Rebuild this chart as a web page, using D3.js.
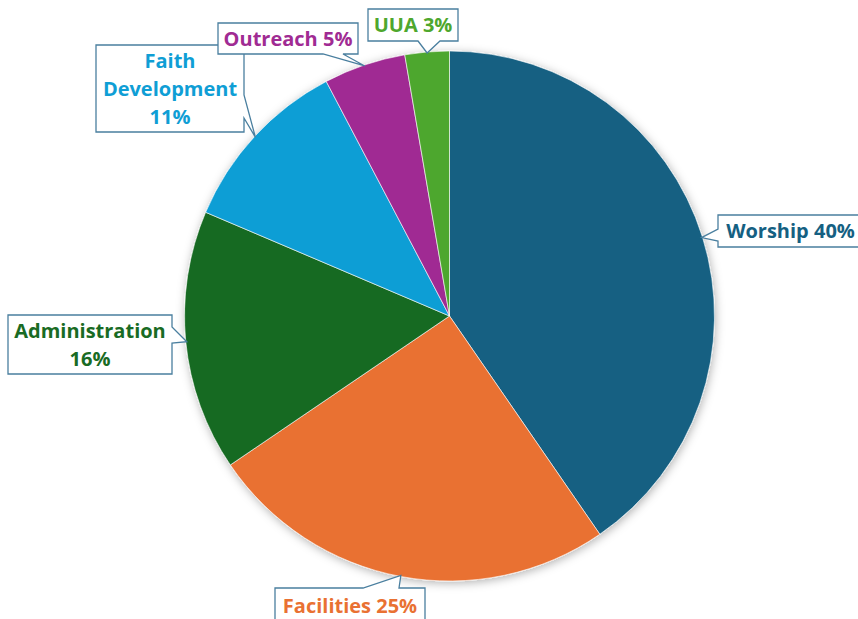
<!DOCTYPE html>
<html>
<head>
<meta charset="utf-8">
<script src="https://cdn.jsdelivr.net/npm/d3@7"></script>
<style>
  body { margin: 0; background: #fff; }
  svg { display: block; }
  .callout-text { font-family: "Open Sans", "Liberation Sans", sans-serif; font-weight: 700; }
</style>
</head>
<body>
<svg id="chart" width="858" height="619"></svg>
<script>
// Data (shares in percent; labels show them rounded)
const categories = ['Worship', 'Facilities', 'Administration', 'Faith Development', 'Outreach', 'UUA']
const values = [40.4, 25.1, 15.9, 10.9, 5.0, 2.7]
const sliceColors = ['#156082', '#E97132', '#196B24', '#0F9ED5', '#A02B93', '#4EA72E']

// Label box layout (placed by hand, like the original)
const labelBoxes = [
    {x: 718, y: 215, w: 145, h: 32, side: 'left',   base: [229, 241], lines: d => [d.name + ' ' + pct(d.value)]},
    {x: 275, y: 588, w: 150, h: 36, side: 'top',    base: [363, 399], lines: d => [d.name + ' ' + pct(d.value)]},
    {x: 8,   y: 315, w: 164, h: 59, side: 'right',  base: [327, 343], lines: d => [d.name, pct(d.value)]},
    {x: 96,  y: 45,  w: 148, h: 87, side: 'right',  base: [95, 118],  lines: d => ['Faith', 'Development', pct(d.value)]},
    {x: 218, y: 23,  w: 140, h: 31, side: 'bottom', base: [323, 343], lines: d => [d.name + ' ' + pct(d.value)]},
    {x: 368, y: 9,   w: 90,  h: 32, side: 'bottom', base: [418, 440], lines: d => [d.name + ' ' + pct(d.value)]}
]

function pct(v) { return Math.round(v) + '%' }

const width = 858, height = 619
const cx = 449.5, cy = 316, radius = 265
const fontSize = 20, lineHeight = 28
const boxStroke = '#4a7f9f'

const svg = d3.select('#chart')

const defs = svg.append('defs')
const shadow = defs.append('filter')
    .attr('id', 'pie-shadow')
    .attr('x', '-20%').attr('y', '-20%')
    .attr('width', '140%').attr('height', '140%')
shadow.append('feDropShadow')
    .attr('dx', 1).attr('dy', 2)
    .attr('stdDeviation', 5)
    .attr('flood-color', '#000')
    .attr('flood-opacity', 0.3)

const data = categories.map((name, i) => ({name: name, value: values[i], color: sliceColors[i]}))

const pie = d3.pie()
    .value(d => d.value)
    .sort(null)

const arc = d3.arc()
    .innerRadius(0)
    .outerRadius(radius)

const arcs = pie(data)

// Pie slices
const pieG = svg.append('g')
    .attr('transform', `translate(${cx},${cy})`)
    .attr('filter', 'url(#pie-shadow)')

pieG.selectAll('.slice')
    .data(arcs)
    .enter()
    .append('path')
    .attr('class', 'slice')
    .attr('d', arc)
    .style('fill', d => d.data.color)
    .style('stroke', '#fff')
    .style('stroke-width', 0.6)

// Callout shape: box with a pointer on one side
function calloutPath(b, tip) {
    const x0 = b.x, y0 = b.y, x1 = b.x + b.w, y1 = b.y + b.h
    const [a, c] = b.base
    const p = d3.path()
    p.moveTo(x0, y0)
    if (b.side === 'top') { p.lineTo(a, y0); p.lineTo(tip[0], tip[1]); p.lineTo(c, y0) }
    p.lineTo(x1, y0)
    if (b.side === 'right') { p.lineTo(x1, a); p.lineTo(tip[0], tip[1]); p.lineTo(x1, c) }
    p.lineTo(x1, y1)
    if (b.side === 'bottom') { p.lineTo(c, y1); p.lineTo(tip[0], tip[1]); p.lineTo(a, y1) }
    p.lineTo(x0, y1)
    if (b.side === 'left') { p.lineTo(x0, c); p.lineTo(tip[0], tip[1]); p.lineTo(x0, a) }
    p.closePath()
    return p.toString()
}

const labels = svg.selectAll('.callout')
    .data(arcs)
    .enter()
    .append('g')
    .attr('class', 'callout')

labels.append('path')
    .attr('d', (d, i) => {
        const ang = (d.startAngle + d.endAngle) / 2
        const tip = [cx + (radius - 1) * Math.sin(ang), cy - (radius - 1) * Math.cos(ang)]
        return calloutPath(labelBoxes[i], tip)
    })
    .style('fill', '#fff')
    .style('stroke', boxStroke)
    .style('stroke-width', 1.3)
    .style('stroke-linejoin', 'miter')

labels.each(function(d, i) {
    const b = labelBoxes[i]
    const lines = b.lines(d.data)
    const midY = b.y + b.h / 2
    const firstBase = midY - (lines.length - 1) * lineHeight / 2 + fontSize * 0.36
    const t = d3.select(this).append('text')
        .attr('class', 'callout-text')
        .attr('text-anchor', 'middle')
        .style('font-size', fontSize + 'px')
        .style('fill', d.data.color)
    lines.forEach((line, k) => {
        t.append('tspan')
            .attr('x', b.x + b.w / 2)
            .attr('y', firstBase + k * lineHeight)
            .text(line)
    })
})
</script>
</body>
</html>
